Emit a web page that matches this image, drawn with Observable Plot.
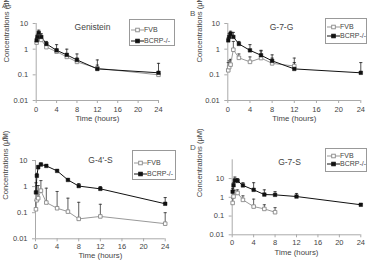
<!DOCTYPE html>
<html>
<head>
<meta charset="utf-8">
<script src="https://cdn.jsdelivr.net/npm/d3@7"></script>
<script src="https://cdn.jsdelivr.net/npm/@observablehq/plot@0.6"></script>
<style>
  body { margin: 0; background: white; }
  #root { position: relative; width: 372px; height: 262px; font-family: "Liberation Sans", Arial, sans-serif; color: #444; overflow: hidden; }
  .panel { position: absolute; width: 186px; height: 131px; }
  .panel svg { position: absolute; left: 0; top: 0; }
  .letter { position: absolute; font-size: 8px; line-height: 8px; color: #555; }
  .legend { position: absolute; border: 1px solid #999; background: white; font-size: 7px; color: #444; box-sizing: border-box; }
  .legend .row { position: absolute; left: 1px; height: 8px; line-height: 8px; white-space: nowrap; }
  .legend svg { position: static; vertical-align: middle; }
</style>
</head>
<body>
<div id="root"></div>
<script>
// Sampling times (hours)
const times = [0.083, 0.25, 0.5, 1, 2, 4, 6, 8, 12, 24];
const xTicks = [0, 4, 8, 12, 16, 20, 24];
const yTicks = [0.01, 0.1, 1, 10];
const panelLetters = ["A", "B", "C", "D"];
const panelTitles = ["Genistein", "G-7-G", "G-4'-S", "G-7-S"];
const seriesNames = ["FVB", "BCRP-/-"];

// A: Genistein
const fvbA = [1.8, 2.5, 3.5, 2.3, 1.2, 0.8, 0.5, 0.32, 0.18, 0.1];
const fvbA_hi = [2.2, 3.1, 4.4, 2.9, 1.5, 1.0, 0.65, 0.45, 0.24, 0.13];
const bcrpA = [2.2, 3.0, 4.3, 3.0, 1.6, 0.9, 0.6, 0.38, 0.17, 0.12];
const bcrpA_hi = [2.8, 3.8, 5.5, 4.0, 2.0, 1.5, 1.0, 0.65, 0.38, 0.28];

// B: G-7-G
const fvbB = [0.15, 0.2, 0.25, 0.95, 0.46, 0.32, 0.45, 0.28, 0.22, null];
const fvbB_hi = [0.3, 0.35, 0.4, 2.0, 0.65, 0.5, 0.85, 0.45, 0.45, null];
const bcrpB = [2.2, 3.0, 4.0, 3.0, 1.6, 0.9, 0.58, 0.35, 0.17, 0.12];
const bcrpB_hi = [2.8, 4.0, 5.0, 4.5, 2.0, 1.5, 0.9, 0.6, 0.3, 0.3];

// C: G-4'-S
const fvbC = [0.135, 0.3, 0.36, 0.7, 0.245, 0.148, 0.11, 0.058, 0.072, 0.038];
const fvbC_hi = [0.3, 1.1, 1.1, 1.7, 0.87, 0.65, 0.36, 0.25, 0.21, 0.1];
const bcrpC = [0.6, 2.6, 5.5, 7.0, 6.2, 4.0, 1.8, 1.05, 0.82, 0.22];
const bcrpC_hi = [1.4, 3.2, 6.5, 8.0, 7.0, 4.5, 2.0, 1.3, 1.0, 0.38];

// D: G-7-S
const fvbD = [0.5, 1.1, 1.8, 1.7, 0.73, 0.32, 0.24, 0.16, null, null];
const fvbD_hi = [0.9, 1.5, 2.4, 2.5, 1.2, 0.8, 0.4, 0.28, null, null];
const bcrpD = [2.0, 4.4, 8.0, 7.5, 4.3, 2.5, 1.4, 1.35, 1.1, 0.4];
const bcrpD_hi = [3.0, 6.0, 12, 10, 6.0, 6.0, 2.5, 2.0, 1.6, 0.45];

const seriesData = [
  [fvbA, fvbA_hi, bcrpA, bcrpA_hi],
  [fvbB, fvbB_hi, bcrpB, bcrpB_hi],
  [fvbC, fvbC_hi, bcrpC, bcrpC_hi],
  [fvbD, fvbD_hi, bcrpD, bcrpD_hi]
];

// layout (pixels) per panel
const layout = [
  {left: 0,   top: 0,   ml: 35.7, mr: 28,   mt: 23,   mb: 31,   ymax: 10,  tickPad: 3,   xlabOff: 20,   ylabX: 6,    ylabDy: 0.5, title: [92, 23],  letter: [2, 2],   legend: [129, 19, 46, 27], rows: [10, 21]},
  {left: 186, top: 0,   ml: 41.3, mr: 11.7, mt: 23,   mb: 31,   ymax: 10,  tickPad: 3,   xlabOff: 20,   ylabX: 13,   ylabDy: 0.5, title: [95, 23],  letter: [4, 10],  legend: [139, 18, 42, 26], rows: [8, 17]},
  {left: 0,   top: 131, ml: 35,   mr: 21.3, mt: 29,   mb: 23.7, ymax: 10,  tickPad: 1.5, xlabOff: 19,   ylabX: 5.5,  ylabDy: 0,   title: [100, 25], letter: [2, 4],   legend: [132, 19, 44, 30], rows: [12, 23]},
  {left: 186, top: 131, ml: 45.7, mr: 11.7, mt: 28.3, mb: 27.7, ymax: 100, tickPad: 2,   xlabOff: 20.5, ylabX: 13.5, ylabDy: 0,   title: [103, 27], letter: [4, 13],  legend: [139, 17, 42, 24], rows: [7, 15]}
];

const capSymbol = {
  draw(context, size) {
    const r = Math.sqrt(size / Math.PI);
    context.moveTo(-r, 0);
    context.lineTo(r, 0);
  }
};

function rows(vals, his) {
  return times.map((t, i) => ({t, v: vals[i], hi: his[i]})).filter(d => d.v != null);
}

const root = document.getElementById("root");

layout.forEach((L, k) => {
  const [fv, fh, bv, bh] = seriesData[k];
  const fvb = rows(fv, fh);
  const bcrp = rows(bv, bh);
  const ymin = 0.01;
  const plot = Plot.plot({
    width: 186,
    height: 131,
    marginLeft: L.ml,
    marginRight: L.mr,
    marginTop: L.mt,
    marginBottom: L.mb,
    style: {fontFamily: "Liberation Sans, Arial, sans-serif", fontSize: "7.5px", color: "#444", background: "transparent", overflow: "visible"},
    x: {domain: [0, 24]},
    y: {type: "log", domain: [ymin, L.ymax]},
    marks: [
      Plot.ruleX([0], {stroke: "#aaa", strokeWidth: 1}),
      Plot.ruleY([ymin], {stroke: "#aaa", strokeWidth: 1}),
      Plot.axisY({ticks: yTicks, tickFormat: d => String(d), tickSize: 3, tickPadding: 5, stroke: "#aaa", label: null, fill: "#444"}),
      Plot.axisX({ticks: xTicks, tickFormat: d => String(d), tickSize: 3, tickPadding: L.tickPad, stroke: "#aaa", label: null, fill: "#444", fontSize: 7.5}),
      Plot.text(["Time (hours)"], {frameAnchor: "bottom", dy: L.xlabOff, fontSize: 7.8, fill: "#444"}),
      Plot.text(["Concentrations (μM)"], {frameAnchor: "left", dx: L.ylabX - L.ml, dy: L.ylabDy, rotate: -90, fontSize: 7.6, fill: "#444"}),
      Plot.text([panelTitles[k]], {frameAnchor: "top-left", dx: L.title[0] - L.ml, dy: L.title[1] - L.mt, textAnchor: "middle", fontSize: 8.5, fill: "#444"}),
      Plot.ruleX(fvb, {x: "t", y1: "v", y2: "hi", stroke: "#333", strokeWidth: 0.8}),
      Plot.dot(fvb, {x: "t", y: "hi", symbol: capSymbol, r: 1.6, stroke: "#333", strokeWidth: 0.8}),
      Plot.ruleX(bcrp, {x: "t", y1: "v", y2: "hi", stroke: "#222", strokeWidth: 0.8}),
      Plot.dot(bcrp, {x: "t", y: "hi", symbol: capSymbol, r: 1.6, stroke: "#222", strokeWidth: 0.8}),
      Plot.line(fvb, {x: "t", y: "v", stroke: "#999", strokeWidth: 1}),
      Plot.line(bcrp, {x: "t", y: "v", stroke: "#111", strokeWidth: 1}),
      Plot.dot(fvb, {x: "t", y: "v", symbol: "square", r: 2, fill: "white", stroke: "#888", strokeWidth: 0.9}),
      Plot.dot(bcrp, {x: "t", y: "v", symbol: "square", r: 2, fill: "#111", stroke: "#111", strokeWidth: 0.5})
    ]
  });

  const panel = document.createElement("div");
  panel.className = "panel";
  panel.style.left = L.left + "px";
  panel.style.top = L.top + "px";
  panel.appendChild(plot);

  const letter = document.createElement("div");
  letter.className = "letter";
  letter.style.left = L.letter[0] + "px";
  letter.style.top = L.letter[1] + "px";
  letter.textContent = panelLetters[k];
  panel.appendChild(letter);

  const [lx, ly, lw, lh] = L.legend;
  const legend = document.createElement("div");
  legend.className = "legend";
  legend.style.left = lx + "px";
  legend.style.top = ly + "px";
  legend.style.width = lw + "px";
  legend.style.height = lh + "px";
  seriesNames.forEach((name, j) => {
    const row = document.createElement("div");
    row.className = "row";
    row.style.top = (L.rows[j] - 4) + "px";
    const open = j === 0;
    const col = open ? "#999" : "#111";
    row.innerHTML = `<svg width="13" height="8"><line x1="0" x2="13" y1="4" y2="4" stroke="${col}" stroke-width="1"/><rect x="4.7" y="2.2" width="3.6" height="3.6" fill="${open ? "white" : "#111"}" stroke="${open ? "#888" : "#111"}" stroke-width="0.9"/></svg><span style="vertical-align:middle">${name}</span>`;
    legend.appendChild(row);
  });
  panel.appendChild(legend);

  root.appendChild(panel);
});
</script>
</body>
</html>
